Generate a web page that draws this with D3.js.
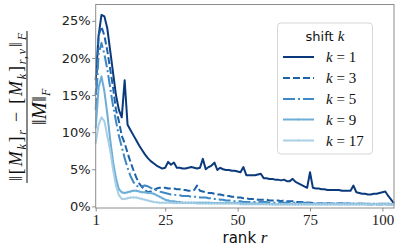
<!DOCTYPE html>
<html>
<head>
<meta charset="utf-8">
<script src="https://cdn.jsdelivr.net/npm/d3@7"></script>
<style>
  body { margin: 0; background: #fff; }
  svg { display: block; }
</style>
</head>
<body>
<div id="chart"></div>
<script>
// rank r = 1 .. 104, relative error in percent
const k1 = [17, 23, 25.8, 25.6, 24, 21, 18, 15, 13, 12, 17, 11, 10.3, 9.6, 8.9, 8.2, 7.6, 7.0, 6.5, 6.1,
  5.8, 5.5, 5.3, 5.1, 5.2, 6.0, 5.6, 5.9, 5.2, 5.2, 5.1, 5.1, 5.2, 5.3, 5.2, 5.1, 5.2, 6.4, 5.0, 5.3,
  5.5, 5.9, 4.9, 5.2, 5.0, 4.9, 4.9, 4.8, 4.8, 4.7, 4.6, 5.3, 4.2, 4.2, 4.2, 4.2, 4.3, 4.4, 3.8, 3.8,
  3.7, 3.7, 3.6, 3.6, 3.5, 3.6, 3.4, 3.4, 3.7, 3.3, 3.1, 2.9, 2.7, 2.5, 4.6, 2.5, 2.4, 2.4, 2.3, 2.3,
  2.2, 2.2, 2.2, 2.2, 2.2, 2.1, 2.1, 2.1, 2.1, 2.8, 1.9, 1.8, 1.7, 1.7, 1.6, 1.6, 1.7, 1.7, 1.8, 1.9,
  2.0, 1.4, 0.9, 0.4];
const k3 = [15, 23, 24.2, 23, 21, 18.5, 16, 13, 11.5, 9.5, 8.5, 7.2, 6.0, 4.9, 3.9, 3.1, 2.6, 2.2, 1.9, 2.0,
  2.2, 2.4, 2.5, 2.5, 2.5, 2.4, 2.4, 2.4, 2.3, 2.3, 2.2, 2.2, 2.1, 2.1, 2.2, 2.8, 2.1, 2.0, 1.9, 1.8,
  1.8, 1.7, 1.6, 1.6, 1.5, 1.4, 1.4, 1.3, 1.3, 1.2, 1.2, 1.1, 1.1, 1.0, 1.0, 1.0, 0.9, 0.9, 0.9, 0.9,
  0.8, 0.8, 0.8, 0.8, 0.7, 0.8, 0.7, 0.7, 0.7, 0.6, 0.6, 0.6, 0.6, 0.5, 0.5, 0.45, 0.4, 0.4, 0.4, 0.4,
  0.4, 0.4, 0.4, 0.4, 0.4, 0.4, 0.35, 0.35, 0.35, 0.35, 0.35, 0.35, 0.35, 0.35, 0.3, 0.3, 0.3, 0.3, 0.3, 0.3,
  0.3, 0.3, 0.3, 0.3];
const k5 = [13, 20.5, 22, 20.5, 18.5, 16, 13.5, 11.5, 9.5, 8, 6.5, 5.2, 4.1, 3.3, 2.8, 2.6, 2.7, 2.8, 2.7, 2.5,
  2.3, 2.2, 2.0, 1.9, 1.8, 1.7, 1.6, 1.6, 1.5, 1.5, 1.4, 1.4, 1.4, 1.3, 1.3, 1.3, 1.2, 1.2, 1.2, 1.1,
  1.1, 1.0, 1.0, 0.9, 0.9, 0.8, 0.8, 0.8, 0.7, 0.7, 0.7, 0.6, 0.6, 0.6, 0.6, 0.6, 0.6, 0.6, 0.6, 0.6,
  0.5, 0.5, 0.5, 0.5, 0.5, 0.5, 0.5, 0.5, 0.5, 0.5, 0.5, 0.5, 0.5, 0.5, 0.5, 0.4, 0.4, 0.4, 0.4, 0.4,
  0.4, 0.4, 0.4, 0.4, 0.4, 0.4, 0.4, 0.4, 0.4, 0.4, 0.35, 0.35, 0.35, 0.35, 0.35, 0.35, 0.35, 0.35, 0.35, 0.35,
  0.35, 0.35, 0.35, 0.35];
const k9 = [10.5, 16, 17.5, 15.5, 12.5, 9, 6, 3.8, 2.3, 1.9, 1.8, 1.9, 2.0, 2.1, 2.1, 2.0, 1.9, 1.9, 1.8, 1.8,
  1.7, 1.5, 1.3, 1.1, 0.9, 0.8, 0.7, 0.7, 0.6, 0.6, 0.5, 0.5, 0.5, 0.5, 0.5, 0.5, 0.5, 0.5, 0.5, 0.5,
  0.45, 0.45, 0.45, 0.45, 0.45, 0.45, 0.45, 0.45, 0.45, 0.45, 0.4, 0.4, 0.4, 0.4, 0.4, 0.4, 0.4, 0.4, 0.4, 0.4,
  0.3, 0.3, 0.3, 0.3, 0.3, 0.3, 0.3, 0.3, 0.3, 0.3, 0.3, 0.3, 0.3, 0.3, 0.3, 0.3, 0.3, 0.3, 0.3, 0.3,
  0.3, 0.3, 0.3, 0.3, 0.3, 0.3, 0.3, 0.3, 0.3, 0.3, 0.3, 0.3, 0.3, 0.3, 0.3, 0.3, 0.3, 0.3, 0.3, 0.3,
  0.3, 0.3, 0.3, 0.3];
const k17 = [8.5, 11, 12, 11.5, 9.5, 7.5, 5, 2.8, 1.5, 1.0, 1.0, 1.1, 1.2, 1.2, 1.2, 1.1, 1.0, 0.9, 0.8, 0.7,
  0.6, 0.55, 0.5, 0.5, 0.5, 0.5, 0.5, 0.45, 0.45, 0.45, 0.45, 0.45, 0.45, 0.45, 0.45, 0.4, 0.4, 0.4, 0.4, 0.4,
  0.4, 0.4, 0.4, 0.4, 0.4, 0.4, 0.4, 0.4, 0.4, 0.4, 0.3, 0.3, 0.3, 0.3, 0.3, 0.3, 0.3, 0.3, 0.3, 0.3,
  0.3, 0.3, 0.3, 0.3, 0.3, 0.3, 0.3, 0.3, 0.3, 0.3, 0.3, 0.3, 0.3, 0.3, 0.3, 0.3, 0.3, 0.3, 0.3, 0.3,
  0.3, 0.3, 0.3, 0.3, 0.3, 0.3, 0.3, 0.3, 0.3, 0.3, 0.3, 0.3, 0.3, 0.3, 0.3, 0.3, 0.3, 0.3, 0.3, 0.3,
  0.3, 0.3, 0.3, 0.3];

const shifts = ['1', '3', '5', '9', '17'];
const seriesValues = [k1, k3, k5, k9, k17];
const colors = ['#0b3a7c', '#1c62a9', '#3d88c5', '#6caed7', '#a8cfe6'];
const dashes = [null, '7,3', '12,3,2,3', null, null];
const markers = [false, false, false, true, true];
const xTicks = [1, 25, 50, 75, 100];
const yTicks = [0, 5, 10, 15, 20, 25];

const W = 399, H = 252;
const margin = {top: 4.5, right: 5, bottom: 44, left: 95.7};

const svg = d3.select('#chart').append('svg')
  .attr('width', W).attr('height', H);

const x = d3.scaleLinear().domain([1, 104]).range([margin.left, W - margin.right]);
const y = d3.scaleLinear().domain([-0.22, 27.2]).range([H - margin.bottom, margin.top]);

const grey = '#8c8c8c';
const serif = '"Liberation Serif", "DejaVu Serif", serif';
const sans = '"DejaVu Sans", sans-serif';

// lines
const line = d3.line().x((d, i) => x(i + 1)).y(d => y(d));
const plot = svg.append('g');
seriesValues.forEach((vals, s) => {
  plot.append('path')
    .datum(vals)
    .attr('fill', 'none')
    .attr('stroke', colors[s])
    .attr('stroke-width', 2)
    .attr('stroke-linejoin', 'round')
    .attr('stroke-dasharray', dashes[s])
    .attr('d', line);
});
// small markers on the k=9 and k=17 lines
[4, 3].forEach(s => {
  plot.append('g').selectAll('line')
    .data(seriesValues[s])
    .enter().append('line')
    .attr('x1', (d, i) => x(i + 1)).attr('x2', (d, i) => x(i + 1))
    .attr('y1', d => y(d) - 1.4).attr('y2', d => y(d) + 1.4)
    .attr('stroke', colors[s]).attr('stroke-width', 0.6).attr('stroke-opacity', 0.8);
});

// frame
svg.append('rect')
  .attr('x', x(1)).attr('y', y(27.2))
  .attr('width', x(104) - x(1)).attr('height', y(-0.22) - y(27.2))
  .attr('fill', 'none').attr('stroke', grey).attr('stroke-width', 1);

// axes
const xAxis = svg.append('g')
  .attr('transform', 'translate(0,' + (H - margin.bottom) + ')')
  .call(d3.axisBottom(x).tickValues(xTicks).tickSize(3.5).tickPadding(3));
xAxis.select('.domain').remove();
xAxis.selectAll('line').attr('stroke', grey);
xAxis.selectAll('text').attr('font-family', serif).attr('font-size', 15).attr('fill', '#222');

const yAxis = svg.append('g')
  .attr('transform', 'translate(' + margin.left + ',0)')
  .call(d3.axisLeft(y).tickValues(yTicks).tickFormat(d => d + '%').tickSize(3.5).tickPadding(1.5));
yAxis.select('.domain').remove();
yAxis.selectAll('line').attr('stroke', grey);
yAxis.selectAll('text').attr('font-family', sans).attr('font-size', 13).attr('fill', '#222');

// x label
const xl = svg.append('text')
  .attr('x', 245).attr('y', 242.5)
  .attr('text-anchor', 'middle').attr('fill', '#111');
xl.append('tspan').attr('font-family', sans).attr('font-size', 15).text('rank ');
xl.append('tspan').attr('font-family', serif).attr('font-style', 'italic').attr('font-size', 17).text('r');

// y label as a fraction
const yl = svg.append('g').attr('transform', 'translate(27,107) rotate(-90)')
  .attr('fill', '#111').attr('font-family', serif);
yl.append('line').attr('x1', -76).attr('x2', 76).attr('y1', 0).attr('y2', 0)
  .attr('stroke', '#111').attr('stroke-width', 1);

function addParts(t, parts, size) {
  let shift = 0;
  parts.forEach(p => {
    const sp = t.append('tspan').text(p[0]);
    const sub = p[1] === 'sub';
    const want = sub ? 4 : 0;
    sp.attr('dy', want - shift);
    shift = want;
    sp.attr('font-size', sub ? 12 : size);
    if (p[2]) sp.attr('font-style', 'italic');
  });
}
const num = yl.append('text').attr('x', 0).attr('y', -5).attr('text-anchor', 'middle')
  .attr('textLength', 148).attr('lengthAdjust', 'spacing');
addParts(num, [['\u2016[', 'n'], ['M', 'n', 1], ['k', 'sub', 1], [']', 'n'], ['r', 'sub', 1],
  [' \u2212 [', 'n'], ['M', 'n', 1], ['k', 'sub', 1], [']', 'n'], ['r,\u03bd', 'sub', 1],
  ['\u2016', 'n'], ['F', 'sub', 1]], 18);
const den = yl.append('text').attr('x', 0).attr('y', 19).attr('text-anchor', 'middle');
addParts(den, [['\u2016', 'n'], ['M', 'n', 1], ['\u2016', 'n'], ['F', 'sub', 1]], 21);

// legend
const lg = svg.append('g');
lg.append('rect')
  .attr('x', 277.5).attr('y', 23).attr('width', 95).attr('height', 131)
  .attr('rx', 3.5).attr('fill', '#fff').attr('fill-opacity', 0.85)
  .attr('stroke', '#d6d6d6').attr('stroke-width', 1);
const lt = lg.append('text').attr('x', 325).attr('y', 41).attr('text-anchor', 'middle').attr('fill', '#111');
lt.append('tspan').attr('font-family', sans).attr('font-size', 13).text('shift ');
lt.append('tspan').attr('font-family', serif).attr('font-style', 'italic').attr('font-size', 15).text('k');

const rowY = [57, 78, 99, 119.5, 140.5];
shifts.forEach((k, s) => {
  lg.append('line')
    .attr('x1', 283).attr('x2', 314).attr('y1', rowY[s]).attr('y2', rowY[s])
    .attr('stroke', colors[s]).attr('stroke-width', 2)
    .attr('stroke-dasharray', dashes[s]);
  if (markers[s]) {
    lg.append('line')
      .attr('x1', 298.5).attr('x2', 298.5).attr('y1', rowY[s] - 1.4).attr('y2', rowY[s] + 1.4)
      .attr('stroke', colors[s]).attr('stroke-width', 0.6);
  }
  const t = lg.append('text').attr('x', 326).attr('y', rowY[s] + 5)
    .attr('font-family', serif).attr('font-size', 15).attr('fill', '#111');
  t.append('tspan').attr('font-style', 'italic').text('k');
  t.append('tspan').text(' = ' + k);
});
</script>
</body>
</html>
